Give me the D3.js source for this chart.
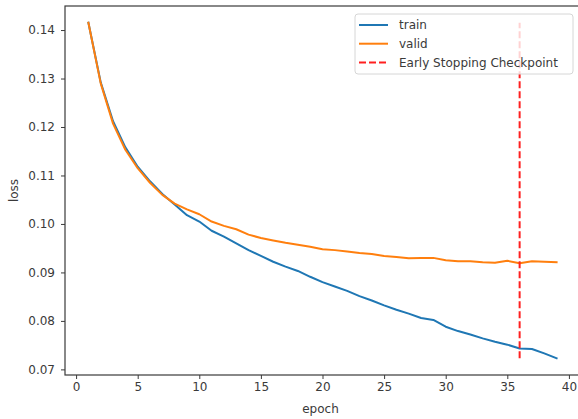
<!DOCTYPE html>
<html>
<head>
<meta charset="utf-8">
<script src="https://cdn.jsdelivr.net/npm/d3@7"></script>
<style>
  body { margin: 0; background: #fff; }
  svg text { font-family: "DejaVu Sans", sans-serif; fill: #3a3a3a; }
</style>
</head>
<body>
<div id="chart"></div>
<script>
// loss per epoch
const epochs = d3.range(1, 40);
const trainLoss = [
  0.1415, 0.1292, 0.1212, 0.1158, 0.1118, 0.1088, 0.1062, 0.1040, 0.1018, 0.1005,
  0.0986, 0.0974, 0.0960, 0.0946, 0.0934, 0.0922, 0.0912, 0.0903, 0.0891, 0.0880,
  0.0871, 0.0862, 0.0851, 0.0842, 0.0832, 0.0823, 0.0815, 0.0806, 0.0802, 0.0788,
  0.0779, 0.0772, 0.0764, 0.0757, 0.0751, 0.0743, 0.0742, 0.0733, 0.0723
];
const validLoss = [
  0.1415, 0.1290, 0.1207, 0.1153, 0.1115, 0.1085, 0.1060, 0.1042, 0.1030, 0.1020,
  0.1005, 0.0996, 0.0989, 0.0978, 0.0971, 0.0966, 0.0961, 0.0957, 0.0953, 0.0948,
  0.0946, 0.0943, 0.0940, 0.0938, 0.0934, 0.0932, 0.0929, 0.0930, 0.0930, 0.0925,
  0.0923, 0.0923, 0.0921, 0.0920, 0.0924, 0.0919, 0.0923, 0.0922, 0.0921
];
const checkpointEpoch = 36;
const xTicks = [0, 5, 10, 15, 20, 25, 30, 35, 40];
const yTicks = [0.07, 0.08, 0.09, 0.10, 0.11, 0.12, 0.13, 0.14];
const legendLabels = ["train", "valid", "Early Stopping Checkpoint"];

const W = 578, H = 419;
const m = { left: 65, right: 580, top: 6, bottom: 375 };
const textColor = "#3a3a3a";
const spineColor = "#3a3a3a";
const fontSize = "12px";

const svg = d3.select("#chart").append("svg")
  .attr("width", W).attr("height", H);

// matplotlib-like 5% margins
const allVals = trainLoss.concat(validLoss);
const yMin = d3.min(allVals), yMax = d3.max(allVals);
const yPad = (yMax - yMin) * 0.05;
const xPad = (d3.max(epochs) - d3.min(epochs)) * 0.05;

const x = d3.scaleLinear()
  .domain([d3.min(epochs) - xPad, d3.max(epochs) + xPad])
  .range([m.left, m.right]);
const y = d3.scaleLinear()
  .domain([yMin - yPad, yMax + yPad])
  .range([m.bottom, m.top]);

const line = d3.line()
  .x(d => x(d[0]))
  .y(d => y(d[1]));

// curves
svg.append("path")
  .datum(epochs.map((e, i) => [e, trainLoss[i]]))
  .attr("d", line)
  .attr("fill", "none")
  .attr("stroke", "#1f77b4")
  .attr("stroke-width", 2)
  .attr("stroke-linejoin", "round")
  .attr("stroke-linecap", "square");

svg.append("path")
  .datum(epochs.map((e, i) => [e, validLoss[i]]))
  .attr("d", line)
  .attr("fill", "none")
  .attr("stroke", "#ff7f0e")
  .attr("stroke-width", 2)
  .attr("stroke-linejoin", "round")
  .attr("stroke-linecap", "square");

// early stopping marker, drawn bottom up like vlines
svg.append("path")
  .datum([[checkpointEpoch, yMin], [checkpointEpoch, yMax]])
  .attr("d", line)
  .attr("stroke", "#ff2020")
  .attr("stroke-width", 2)
  .attr("stroke-dasharray", "7,3");

// axes
const xAxis = svg.append("g")
  .attr("transform", `translate(0,${m.bottom})`)
  .call(d3.axisBottom(x).tickValues(xTicks).tickSize(4).tickPadding(3).tickFormat(d3.format("d")));
const yAxis = svg.append("g")
  .attr("transform", `translate(${m.left},0)`)
  .call(d3.axisLeft(y).tickValues(yTicks).tickSize(4).tickPadding(6).tickFormat(d3.format(".2f")));

[xAxis, yAxis].forEach(a => {
  a.select(".domain").remove();
  a.selectAll(".tick line").attr("stroke", spineColor).attr("stroke-width", 1);
  a.selectAll(".tick text").attr("fill", textColor).style("font-size", fontSize);
});

// spines
svg.append("rect")
  .attr("x", m.left).attr("y", m.top)
  .attr("width", m.right - m.left).attr("height", m.bottom - m.top)
  .attr("fill", "none")
  .attr("stroke", spineColor)
  .attr("stroke-width", 1.2);

// axis labels
svg.append("text")
  .attr("x", (m.left + m.right) / 2 - 2).attr("y", 413)
  .attr("text-anchor", "middle")
  .style("font-size", fontSize)
  .text("epoch");
svg.append("text")
  .attr("transform", `translate(18,${(m.top + m.bottom) / 2}) rotate(-90)`)
  .attr("text-anchor", "middle")
  .style("font-size", fontSize)
  .text("loss");

// legend
const lg = svg.append("g").attr("transform", "translate(355,14)");
lg.append("rect")
  .attr("width", 218).attr("height", 60)
  .attr("rx", 3)
  .attr("fill", "#fff").attr("fill-opacity", 0.8)
  .attr("stroke", "#d6d6d6");
const legendStyles = [
  { color: "#1f77b4", dash: null },
  { color: "#ff7f0e", dash: null },
  { color: "#ff2020", dash: "7,3" }
];
legendLabels.forEach((label, i) => {
  const row = lg.append("g").attr("transform", `translate(0,${11 + i * 18.7})`);
  row.append("line")
    .attr("x1", 4).attr("x2", 33)
    .attr("stroke", legendStyles[i].color)
    .attr("stroke-width", 2)
    .attr("stroke-dasharray", legendStyles[i].dash);
  row.append("text")
    .attr("x", 44).attr("dy", "0.35em")
    .style("font-size", fontSize)
    .text(label);
});
</script>
</body>
</html>
